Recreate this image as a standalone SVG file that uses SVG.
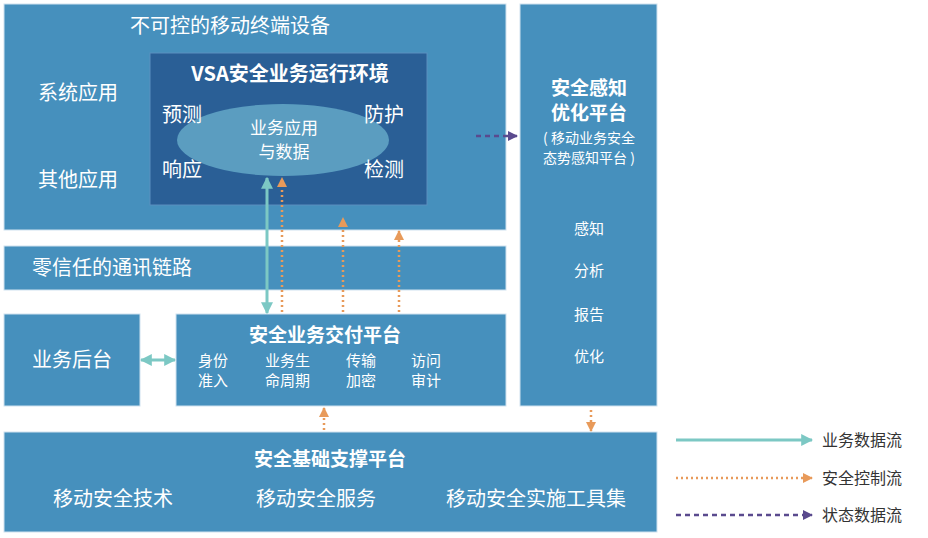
<svg xmlns="http://www.w3.org/2000/svg" width="928" height="538" viewBox="0 0 928 538">
<style>
text{font-family:"Noto Sans CJK SC","Noto Sans",sans-serif;fill:#fff}
.b{fill:#4690bd;stroke:#cfe2ef;stroke-width:1}
.t{font-size:20px}.s{font-size:15px}.h{font-size:19px;font-weight:bold}
.lg{fill:#333;font-size:16px}
</style>
<defs>
<marker id="ta" viewBox="0 0 10 10" refX="9" refY="5" markerWidth="4" markerHeight="4" orient="auto-start-reverse"><path d="M0,0L10,5L0,10z" fill="#7cc8c4"/></marker>
<marker id="oa" viewBox="0 0 10 10" refX="9" refY="5" markerWidth="4" markerHeight="4" orient="auto"><path d="M0,0L10,5L0,10z" fill="#e89a5a"/></marker>
<marker id="pa" viewBox="0 0 10 10" refX="9" refY="5" markerWidth="4" markerHeight="4" orient="auto"><path d="M0,0L10,5L0,10z" fill="#5a4a8e"/></marker>
</defs>
<rect width="928" height="538" fill="#fff"/>
<g id="terminal"><rect class="b" x="4" y="4" width="502" height="226"/>
<text class="t" x="130" y="33">不可控的移动终端设备</text>
<text class="t" x="38" y="100">系统应用</text><text class="t" x="38" y="187">其他应用</text></g>
<g id="vsa"><rect x="150" y="53" width="277" height="152" fill="#2a5f96" stroke="#5b8fbf"/>
<ellipse cx="283" cy="140" rx="106" ry="36" fill="#5b9dc0"/>
<text class="h" x="290" y="81" text-anchor="middle" style="font-size:20px">VSA安全业务运行环境</text>
<text class="t" x="162" y="122">预测</text><text class="t" x="162" y="177">响应</text>
<text class="t" x="364" y="122">防护</text><text class="t" x="364" y="177">检测</text>
<text x="284" y="134" text-anchor="middle" style="font-size:17px">业务应用</text>
<text x="284" y="158" text-anchor="middle" style="font-size:17px">与数据</text></g>
<g id="link"><rect class="b" x="4" y="246" width="502" height="44"/><text class="t" x="32" y="275">零信任的通讯链路</text></g>
<g id="backend"><rect class="b" x="4" y="314" width="136" height="92"/><text class="t" x="72" y="367" text-anchor="middle">业务后台</text></g>
<g id="delivery"><rect class="b" x="176" y="314" width="330" height="92"/>
<text class="h" x="325" y="342" text-anchor="middle">安全业务交付平台</text>
<text class="s" x="198" y="366">身份</text><text class="s" x="198" y="386">准入</text>
<text class="s" x="265" y="366">业务生</text><text class="s" x="265" y="386">命周期</text>
<text class="s" x="346" y="366">传输</text><text class="s" x="346" y="386">加密</text>
<text class="s" x="411" y="366">访问</text><text class="s" x="411" y="386">审计</text></g>
<g id="perception"><rect class="b" x="520" y="4" width="137" height="402"/>
<text class="h" x="589" y="95" text-anchor="middle">安全感知</text>
<text class="h" x="589" y="120" text-anchor="middle">优化平台</text>
<text x="589" y="143" text-anchor="middle" style="font-size:14px">( 移动业务安全</text>
<text x="589" y="163" text-anchor="middle" style="font-size:14px">态势感知平台 )</text>
<text class="s" x="589" y="234" text-anchor="middle">感知</text><text class="s" x="589" y="276" text-anchor="middle">分析</text>
<text class="s" x="589" y="320" text-anchor="middle">报告</text><text class="s" x="589" y="362" text-anchor="middle">优化</text></g>
<g id="foundation"><rect class="b" x="4" y="432" width="653" height="100"/>
<text class="h" x="330" y="466" text-anchor="middle">安全基础支撑平台</text>
<text class="t" x="113" y="506" text-anchor="middle">移动安全技术</text>
<text class="t" x="316" y="506" text-anchor="middle">移动安全服务</text>
<text class="t" x="536" y="506" text-anchor="middle">移动安全实施工具集</text></g>
<g id="connectors" fill="none">
<line x1="267" y1="178" x2="267" y2="313" stroke="#7cc8c4" stroke-width="3" marker-start="url(#ta)" marker-end="url(#ta)"/>
<line x1="141" y1="360" x2="175" y2="360" stroke="#7cc8c4" stroke-width="3" marker-start="url(#ta)" marker-end="url(#ta)"/>
<g stroke="#e89a5a" stroke-width="2.5" stroke-dasharray="2 3">
<line x1="282" y1="312" x2="282" y2="178" marker-end="url(#oa)"/>
<line x1="343" y1="312" x2="343" y2="218" marker-end="url(#oa)"/>
<line x1="399" y1="312" x2="399" y2="231" marker-end="url(#oa)"/>
<line x1="324" y1="430" x2="324" y2="408" marker-end="url(#oa)"/>
<line x1="591" y1="410" x2="591" y2="431" marker-end="url(#oa)"/>
<line x1="676" y1="478" x2="812" y2="478" marker-end="url(#oa)"/></g>
<line x1="476" y1="136" x2="517" y2="136" stroke="#5a4a8e" stroke-width="2.5" stroke-dasharray="5 4" marker-end="url(#pa)"/>
<line x1="676" y1="515" x2="812" y2="515" stroke="#5a4a8e" stroke-width="2.5" stroke-dasharray="5 4" marker-end="url(#pa)"/>
<line x1="676" y1="440" x2="812" y2="440" stroke="#7cc8c4" stroke-width="3" marker-end="url(#ta)"/>
</g>
<g id="legend"><text class="lg" x="822" y="446">业务数据流</text><text class="lg" x="822" y="484">安全控制流</text><text class="lg" x="822" y="521">状态数据流</text></g>
</svg>
